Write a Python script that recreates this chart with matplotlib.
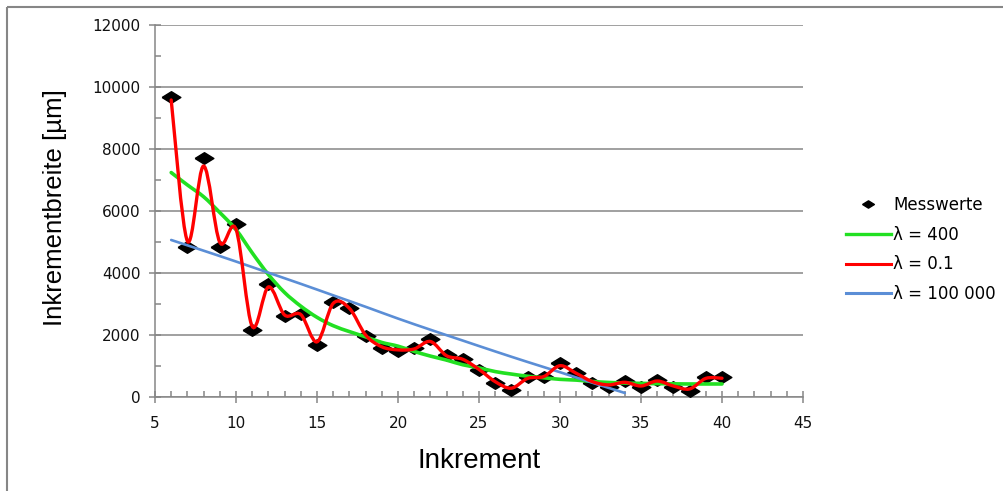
import numpy as np
import matplotlib
matplotlib.use("Agg")
import matplotlib.pyplot as plt
from matplotlib.path import Path
from matplotlib.patches import PathPatch
from matplotlib.lines import Line2D
from matplotlib.ticker import MultipleLocator

inkrement = list(range(6, 41))
messwerte = [9670, 4850, 7700, 4830, 5570, 2160, 3645, 2615, 2675, 1680,
             3075, 2860, 1970, 1570, 1500, 1570, 1860, 1345, 1215, 870,
             460, 225, 635, 655, 1085, 785, 460, 315, 525, 315,
             545, 315, 205, 655, 635]

fit_01 = [9580, 5030, 7450, 4990, 5410, 2280, 3550, 2645, 2660, 1780,
          3020, 2860, 2000, 1620, 1520, 1550, 1790, 1330, 1215, 890,
          495, 285, 600, 660, 1010, 765, 495, 390, 475, 355,
          515, 355, 260, 600, 605]

fit_400 = [7240, 6840, 6460, 5950, 5400, 4650, 3950, 3370, 2930, 2570,
           2300, 2110, 1940, 1760, 1640, 1470, 1320, 1190, 1040, 940,
           820, 740, 670, 620, 570, 545, 500, 470, 450, 440,
           430, 425, 420, 420, 420]

x_100k = list(range(6, 35, 2))
fit_100k = [5065, 4720, 4370, 4010, 3650, 3280, 2910, 2530, 2170, 1820,
            1470, 1130, 800, 460, 130]

labels = ["Messwerte", "λ = 400", "λ = 0.1", "λ = 100 000"]
c_green = "#22e022"
c_red = "#ff0000"
c_blue = "#5b8ed6"
grey = "#868686"


def smooth_path(xs, ys):
    # excel style smoothed line: cubic bezier segments through the points
    p = np.column_stack([xs, ys]).astype(float)
    n = len(p)
    verts = [p[0]]
    codes = [Path.MOVETO]
    for i in range(n - 1):
        p0 = p[i - 1] if i > 0 else p[i]
        p3 = p[i + 2] if i + 2 < n else p[i + 1]
        c1 = p[i] + (p[i + 1] - p0) / 6.0
        c2 = p[i + 1] - (p3 - p[i]) / 6.0
        verts += [c1, c2, p[i + 1]]
        codes += [Path.CURVE4] * 3
    return Path(verts, codes)


diamond = [(-1, 0), (0, 0.62), (1, 0), (0, -0.62), (-1, 0)]

fig = plt.figure(figsize=(10.04, 4.91), dpi=100)
ax = fig.add_axes([155 / 1004, 1 - 397 / 491, 648 / 1004, 372 / 491])

ax.plot(inkrement, messwerte, linestyle="none", marker=diamond,
        markersize=13.5, color="black", zorder=3)
ax.add_patch(PathPatch(smooth_path(inkrement, fit_400), fill=False,
                       edgecolor=c_green, lw=2.6, zorder=4, capstyle="round"))
ax.add_patch(PathPatch(smooth_path(x_100k, fit_100k), fill=False,
                       edgecolor=c_blue, lw=1.9, zorder=5, capstyle="round"))
ax.add_patch(PathPatch(smooth_path(inkrement, fit_01), fill=False,
                       edgecolor=c_red, lw=2.4, zorder=6, capstyle="round"))

ax.set_xlim(5, 45)
ax.set_ylim(0, 12000)
ax.xaxis.set_major_locator(MultipleLocator(5))
ax.xaxis.set_minor_locator(MultipleLocator(1))
ax.yaxis.set_major_locator(MultipleLocator(2000))
ax.yaxis.set_minor_locator(MultipleLocator(1000))
ax.grid(axis="y", which="major", color=grey, lw=1.1)
ax.set_axisbelow(True)
for s in ["top", "right"]:
    ax.spines[s].set_visible(False)
for s in ["left", "bottom"]:
    ax.spines[s].set_color(grey)
    ax.spines[s].set_linewidth(1.1)
ax.tick_params(which="major", direction="inout", length=9, width=1.1,
               color=grey, labelsize=11, labelcolor="#111111")
ax.tick_params(which="minor", direction="in", length=4, width=1.1, color=grey)
ax.tick_params(axis="x", which="major", pad=9)
ax.tick_params(axis="y", which="major", pad=6)

ax.set_xlabel("Inkrement", fontsize=20, family="Liberation Sans")
ax.xaxis.set_label_coords(0.5, -0.137)
ax.set_ylabel("Inkrementbreite [µm]", fontsize=18.5, family="Liberation Sans")
ax.yaxis.set_label_coords(-0.136, 0.51)

handles = [
    Line2D([], [], linestyle="none", marker=diamond, markersize=8.5, color="black"),
    Line2D([], [], color=c_green, lw=2.4),
    Line2D([], [], color=c_red, lw=2.2),
    Line2D([], [], color=c_blue, lw=2.2),
]
fig.legend(handles, labels, loc="upper left",
           bbox_to_anchor=(846 / 1004, 1 - 196 / 491), frameon=False,
           fontsize=12, handlelength=2.7, handletextpad=0.15,
           labelspacing=0.7, borderpad=0, borderaxespad=0)

# outer chart border (left and top edges only, the rest is cropped)
fig.add_artist(Line2D([7 / 1004, 7 / 1004], [-0.05, 1 - 7 / 491],
                      transform=fig.transFigure, color=grey, lw=1.5,
                      solid_capstyle="butt"))
fig.add_artist(Line2D([7 / 1004, 1.05], [1 - 7 / 491, 1 - 7 / 491],
                      transform=fig.transFigure, color=grey, lw=1.5,
                      solid_capstyle="butt"))

fig.savefig("out.png", dpi=100)
